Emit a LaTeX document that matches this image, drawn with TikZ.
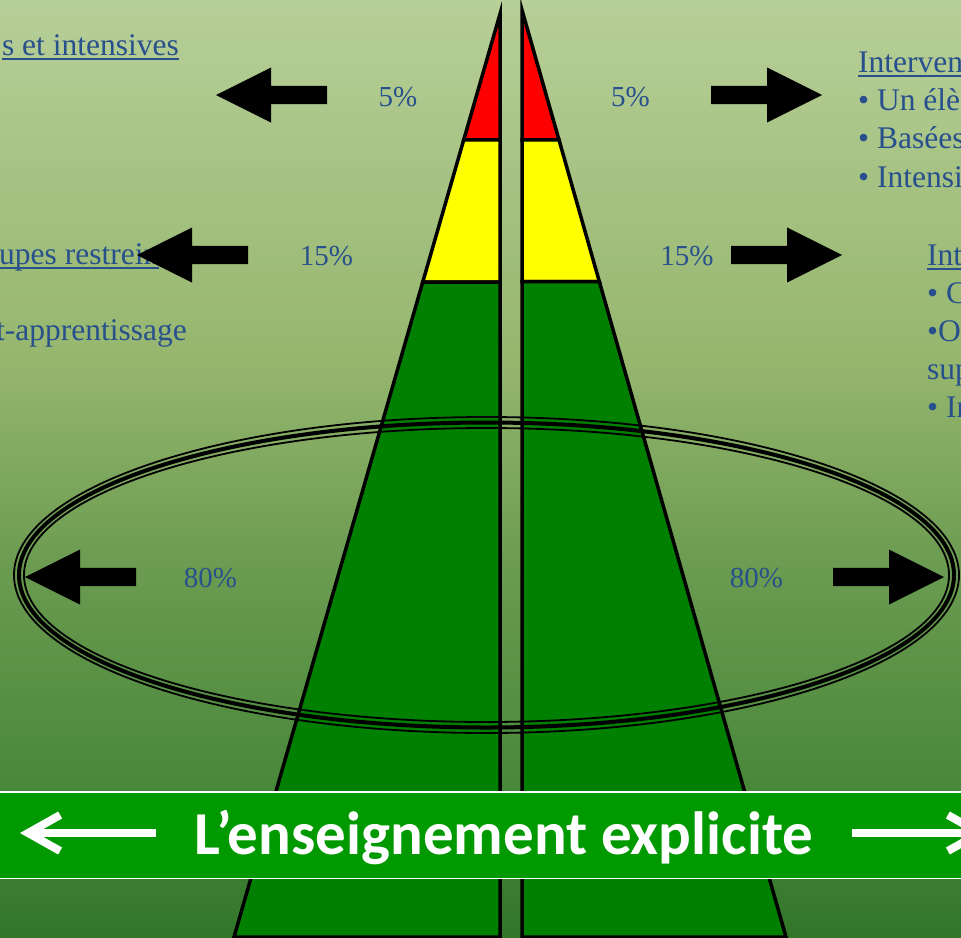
\documentclass[tikz,border=0pt]{standalone}
\usepackage{fontspec}
\setmainfont{Liberation Serif}
\newfontfamily\bannerfont{Carlito}
\usepackage{tikz}
\usetikzlibrary{calc,arrows.meta}

\definecolor{bgtop}{RGB}{183,207,152}
\definecolor{bgtwo}{RGB}{150,182,110}
\definecolor{bgthree}{RGB}{106,155,80}
\definecolor{bgfour}{RGB}{72,135,58}
\definecolor{bgbot}{RGB}{50,118,42}
\definecolor{tipred}{RGB}{255,0,0}
\definecolor{midyellow}{RGB}{255,255,0}
\definecolor{basegreen}{RGB}{0,128,0}
\definecolor{bannergreen}{RGB}{0,153,0}
\definecolor{inkblue}{RGB}{40,80,140}

\pgfdeclareverticalshading{fieldshade}{100bp}{color(0bp)=(bgbot); color(25bp)=(bgbot); color(32.8bp)=(bgfour); color(44.6bp)=(bgthree); color(55.8bp)=(bgtwo); color(75bp)=(bgtop); color(100bp)=(bgtop)}

\begin{document}
\begin{tikzpicture}[x=1pt,y=-1pt,
  layer/.style={draw=black,line width=3.5pt},
  pct/.style={text=inkblue,font=\fontsize{29}{35}\selectfont,anchor=base,inner sep=0pt},
  side/.style={text=inkblue,font=\fontsize{31.5}{37}\selectfont,anchor=base west,inner sep=0pt},
  ring/.style={draw=black},
  bigarrow/.style={fill=black},
  banner/.style={fill=bannergreen,inner sep=0pt,minimum width=961pt,minimum height=86pt},
  motto/.style={text=white,font=\bannerfont\bfseries\fontsize{61}{66}\selectfont,anchor=base,inner sep=0pt},
  bannerarrow/.style={draw=white,line width=8pt,-{Straight Barb[length=32pt,width=36pt]}}]
\useasboundingbox (0,0) rectangle (961,937);
\clip (0,0) rectangle (961,937);
\shade[shading=fieldshade] (0,0) rectangle (961,937);

\coordinate (Lapex) at (500,14);
\coordinate (Lfoot) at (234,937);
\coordinate (L1) at ($(Lapex)!0.1365!(Lfoot)$);
\coordinate (L2) at ($(Lapex)!0.2904!(Lfoot)$);
\coordinate (Rapex) at (522,10);
\coordinate (Rfoot) at (786,937);
\coordinate (R1) at ($(Rapex)!0.14!(Rfoot)$);
\coordinate (R2) at ($(Rapex)!0.293!(Rfoot)$);

\filldraw[layer,fill=tipred] (Lapex) -- (L1) -- (Lapex |- L1) -- cycle;
\filldraw[layer,fill=midyellow] (L1) -- (L2) -- (Lapex |- L2) -- (Lapex |- L1) -- cycle;
\filldraw[layer,fill=basegreen] (L2) -- (Lfoot) -- (Lapex |- Lfoot) -- (Lapex |- L2) -- cycle;
\filldraw[layer,fill=tipred] (Rapex) -- (R1) -- (Rapex |- R1) -- cycle;
\filldraw[layer,fill=midyellow] (R1) -- (R2) -- (Rapex |- R2) -- (Rapex |- R1) -- cycle;
\filldraw[layer,fill=basegreen] (R2) -- (Rfoot) -- (Rapex |- Rfoot) -- (Rapex |- R2) -- cycle;

\coordinate (hub) at (486.5,575);
\draw[ring,line width=1.8pt] (hub) ellipse [x radius=472.5, y radius=158];
\draw[ring,line width=4pt] (hub) ellipse [x radius=467.5, y radius=152.5];
\draw[ring,line width=1.8pt] (hub) ellipse [x radius=462.5, y radius=147];

\node[banner,anchor=north west] (band) at (0,792) {};
\draw[white,line width=1.5pt] (band.north west) -- (band.north east);
\draw[white,line width=1.5pt] (band.south west) -- (band.south east);
\node[motto] (title) at (504,854) {L’enseignement explicite};
\coordinate (wl) at (156,833);
\coordinate (wlt) at (20,833);
\coordinate (wr) at (852,833);
\coordinate (wrt) at (988,833);
\draw[bannerarrow] (wl) -- (wlt);
\draw[bannerarrow] (wr) -- (wrt);

\node[pct] (p5l) at (398,106) {5\%};
\node[pct] (p5r) at (630.5,106) {5\%};
\node[pct] (p15l) at (326.5,265) {15\%};
\node[pct] (p15r) at (687,265) {15\%};
\node[pct] (p80l) at (210.5,587) {80\%};
\node[pct] (p80r) at (756.5,587) {80\%};

\node[side,anchor=base east] (leftA) at (179,55) {s et intensives};
\node[side] (leftB) at (-1,264) {upes restrein};
\node[side,anchor=base east] (leftC) at (187,340) {t-apprentissage};

\node[side] (headA) at (858,72) {Interven};
\node[side] (itemA) at (858,110) {• Un élè};
\node[side] (itemB) at (858,148) {• Basées};
\node[side] (itemC) at (858,187) {• Intensi};
\node[side] (headB) at (927,265) {Int};
\node[side] (itemD) at (927,303) {• C};
\node[side] (itemE) at (927,341) {•O};
\node[side] (itemF) at (927,379) {sup};
\node[side] (itemG) at (927,417) {• In};
\foreach \n in {leftA,leftB,headA,headB}
  \draw[inkblue,line width=1.5pt] ([yshift=-4pt]\n.base west) -- ([yshift=-4pt]\n.base east);

\foreach \tx/\ty/\dir in {216/95/-1,137/255/-1,25/577/-1,822/95/1,842/255/1,944/577/1}
  \fill[bigarrow,shift={(\tx,\ty)},xscale=\dir] (0,0) -- (-55,-27.5) -- (-55,-9.2) -- (-111,-9.2) -- (-111,9.2) -- (-55,9.2) -- (-55,27.5) -- cycle;
\end{tikzpicture}
\end{document}
